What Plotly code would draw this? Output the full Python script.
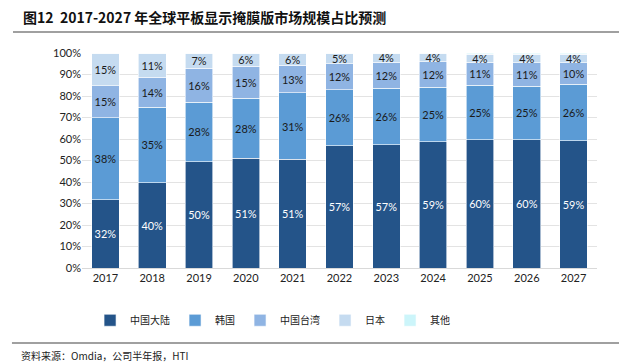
import plotly.graph_objects as go

years = ["2017", "2018", "2019", "2020", "2021", "2022", "2023", "2024", "2025", "2026", "2027"]
mainland = [31.7, 39.7, 49.5, 51.0, 50.6, 56.9, 57.3, 58.8, 59.7, 59.7, 59.3]
korea = [38.1, 35.0, 27.6, 27.9, 30.8, 26.1, 26.3, 25.2, 25.2, 24.8, 26.2]
taiwan = [15.0, 14.0, 15.9, 14.9, 12.9, 12.0, 12.2, 12.0, 10.7, 10.9, 9.9]
japan = [15.2, 11.3, 7.0, 6.2, 5.7, 5.0, 4.2, 4.0, 3.9, 4.0, 4.0]
others = [0.0, 0.0, 0.0, 0.0, 0.0, 0.0, 0.0, 0.0, 0.5, 0.6, 0.6]

names = ["中国大陆", "韩国", "中国台湾", "日本", "其他"]
series = [mainland, korea, taiwan, japan, others]
colors = ["#245489", "#5B9BD5", "#8FB4E3", "#C5DBF0", "#CCF5FA"]
text_colors = ["white", "#1a1a1a", "#1a1a1a", "#1a1a1a", "#1a1a1a"]

fig = go.Figure()
for name, vals, col, tc in zip(names, series, colors, text_colors):
    show = name != "其他"
    fig.add_trace(go.Bar(
        x=years, y=vals, name=name,
        marker=dict(color=col, line=dict(color="white", width=0.6)),
        texttemplate="%{y:.0f}%" if show else None,
        textposition="inside" if show else "none",
        insidetextanchor="middle",
        textangle=0,
        textfont=dict(color=tc, size=11, family="Lato, Open Sans, sans-serif"),
        hoverinfo="skip",
    ))

fig.update_layout(
    barmode="stack",
    bargap=0.41,
    width=619, height=364,
    margin=dict(l=82, r=22, t=53, b=96, autoexpand=False),
    plot_bgcolor="white", paper_bgcolor="white",
    uniformtext=dict(minsize=8, mode="show"),
    font=dict(family="Lato, Noto Sans CJK SC, sans-serif", size=11, color="#222"),
    xaxis=dict(
        showline=True, linecolor="#d9d9d9", linewidth=1,
        tickfont=dict(size=11, color="#222"), ticks="",
    ),
    yaxis=dict(
        range=[0, 100], dtick=10, ticksuffix="%",
        gridcolor="#e3e3e3", gridwidth=1, zeroline=False,
        tickfont=dict(size=11, color="#222"),
    ),
    legend=dict(
        orientation="h", x=0.37, xanchor="center",
        yref="container", y=0.16, yanchor="top",
        font=dict(family="Noto Sans CJK SC", size=10, color="#222"),
        itemwidth=30, traceorder="normal",
    ),
    shapes=[
        dict(type="line", xref="paper", yref="paper", x0=-0.134, x1=1.05,
             y0=1.098, y1=1.098, line=dict(color="#808080", width=1.5)),
        dict(type="line", xref="paper", yref="paper", x0=-0.136, x1=1.05,
             y0=-0.349, y1=-0.349, line=dict(color="#808080", width=1.5)),
    ],
    annotations=[
        dict(text="<b>图12  2017-2027 年全球平板显示掩膜版市场规模占比预测</b>",
             xref="paper", yref="paper", x=-0.118, y=1.167,
             xanchor="left", yanchor="middle", showarrow=False,
             font=dict(family="Noto Sans CJK SC", size=14, color="#111")),
        dict(text="资料来源：Omdia，公司半年报，HTI",
             xref="paper", yref="paper", x=-0.122, y=-0.405,
             xanchor="left", yanchor="middle", showarrow=False,
             font=dict(family="Noto Sans CJK SC", size=10, color="#222")),
    ],
)

fig.write_html("out.html", config={"displayModeBar": False},
               post_script="document.body.style.margin='0';document.body.style.overflow='hidden';")
